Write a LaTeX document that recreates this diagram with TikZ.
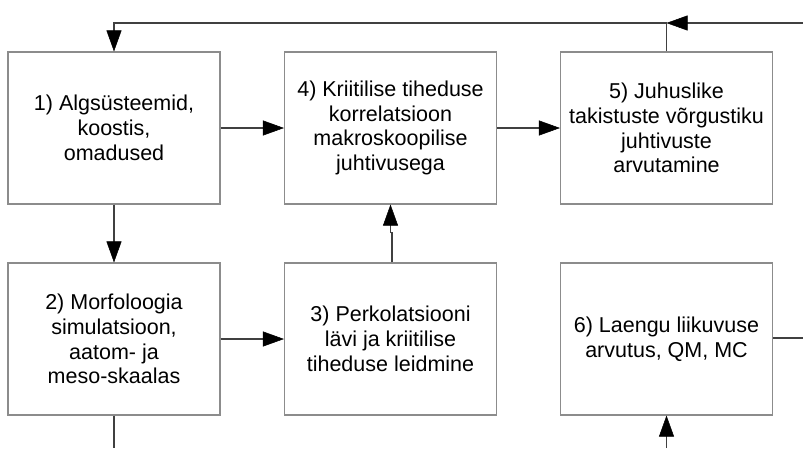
\documentclass[tikz,border=0pt]{standalone}
\usepackage{fontspec}
\setmainfont{Liberation Sans}
\usetikzlibrary{arrows.meta}
\begin{document}
\begin{tikzpicture}[x=1pt,y=-1pt,
  stagebox/.style={draw=black!45,line width=1.1pt,minimum width=212pt,minimum height=152pt,
    inner sep=0pt,align=center,font=\fontsize{21.5}{24.7}\selectfont},
  flow/.style={draw=black!75,line width=1.1pt},
  tip/.style={-{Triangle[length=21pt,width=15pt,color=black,fill=black,line width=0.5pt]}}]
\useasboundingbox (0,0) rectangle (803,448);
% top row
\node[stagebox] (b1) at (114,128) {1) Algsüsteemid,\\koostis,\\omadused};
\node[stagebox] (b4) at (390.5,128) {4) Kriitilise tiheduse\\korrelatsioon\\makroskoopilise\\juhtivusega};
\node[stagebox] (b5) at (666.5,128) {5) Juhuslike\\takistuste võrgustiku\\juhtivuste\\arvutamine};
% bottom row
\node[stagebox] (b2) at (114,339) {2) Morfoloogia\\simulatsioon,\\aatom- ja\\meso-skaalas};
\node[stagebox] (b3) at (390.5,339) {3) Perkolatsiooni\\lävi ja kriitilise\\tiheduse leidmine};
\node[stagebox] (b6) at (666.5,339) {6) Laengu liikuvuse\\arvutus, QM, MC};
% loose ends at the frame
\coordinate (inR) at (803,23);
\coordinate (junc) at (666.5,23);
\coordinate (outR) at (803,338);
\coordinate (outB) at (114,448);
\coordinate (inB) at (666.5,448);
\coordinate (jogA) at (392,233);
\coordinate (jogB) at (390.5,233);
% connectors
\draw[flow,tip] (b1.east) -- (b4.west);
\draw[flow,tip] (b4.east) -- (b5.west);
\draw[flow,tip] (b1.south) -- (b2.north);
\draw[flow,tip] (b2.east) -- (b3.west);
\draw[flow] (b3.north -| jogA) -- (jogA) -- (jogB);
\draw[flow,tip] (jogB) -- (b4.south);
\draw[flow,tip] (inR) -- (junc);
\draw[flow] (b5.north) -- (junc);
\draw[flow,tip] (junc) -| (b1.north);
\draw[flow] (b6.east |- outR) -- (outR);
\draw[flow] (b2.south) -- (outB);
\draw[flow,tip] (inB) -- (b6.south);
\end{tikzpicture}
\end{document}
